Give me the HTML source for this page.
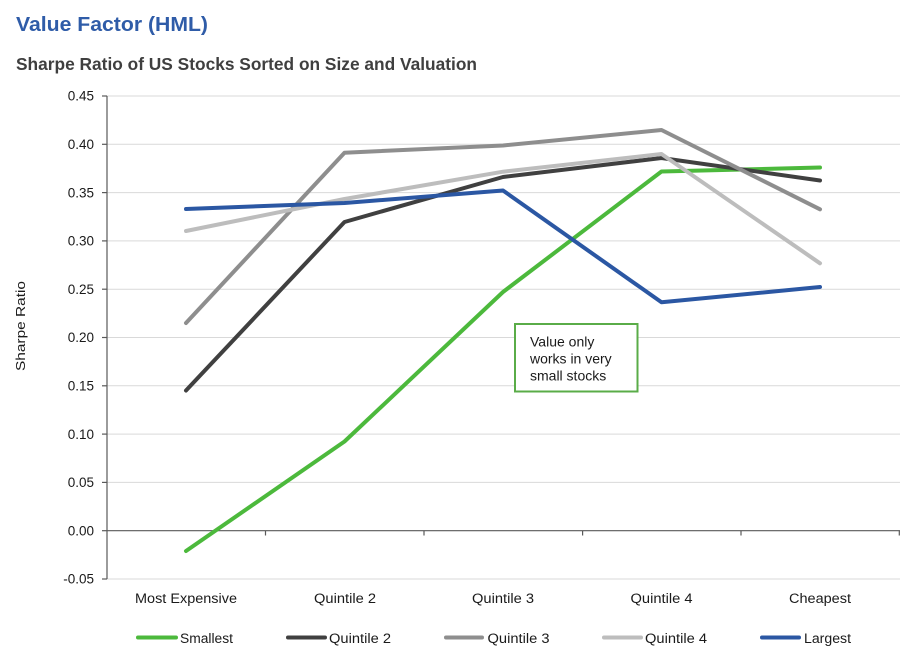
<!DOCTYPE html>
<html><head><meta charset="utf-8"><style>
html,body{margin:0;padding:0;background:#fff;}
svg{display:block;}
text{font-family:"Liberation Sans",sans-serif;}
</style></head><body>
<svg width="924" height="660" viewBox="0 0 924 660" xmlns="http://www.w3.org/2000/svg">
<rect width="924" height="660" fill="#fff"/>
<text x="16" y="31" font-size="20" font-weight="bold" fill="#2f5ca8" textLength="192" lengthAdjust="spacingAndGlyphs">Value Factor (HML)</text>
<text x="16" y="70" font-size="17.5" font-weight="bold" fill="#3f3f3f" textLength="461" lengthAdjust="spacingAndGlyphs">Sharpe Ratio of US Stocks Sorted on Size and Valuation</text>

<g stroke="#d9d9d9" stroke-width="1">
<line x1="107" y1="96" x2="900" y2="96"/>
<line x1="107" y1="144.3" x2="900" y2="144.3"/>
<line x1="107" y1="192.6" x2="900" y2="192.6"/>
<line x1="107" y1="240.9" x2="900" y2="240.9"/>
<line x1="107" y1="289.2" x2="900" y2="289.2"/>
<line x1="107" y1="337.5" x2="900" y2="337.5"/>
<line x1="107" y1="385.8" x2="900" y2="385.8"/>
<line x1="107" y1="434.1" x2="900" y2="434.1"/>
<line x1="107" y1="482.4" x2="900" y2="482.4"/>
<line x1="107" y1="579" x2="900" y2="579"/>
</g>
<g stroke="#595959" stroke-width="1.2">
<line x1="107" y1="96" x2="107" y2="579"/>
<line x1="102" y1="96" x2="107" y2="96"/>
<line x1="102" y1="144.3" x2="107" y2="144.3"/>
<line x1="102" y1="192.6" x2="107" y2="192.6"/>
<line x1="102" y1="240.9" x2="107" y2="240.9"/>
<line x1="102" y1="289.2" x2="107" y2="289.2"/>
<line x1="102" y1="337.5" x2="107" y2="337.5"/>
<line x1="102" y1="385.8" x2="107" y2="385.8"/>
<line x1="102" y1="434.1" x2="107" y2="434.1"/>
<line x1="102" y1="482.4" x2="107" y2="482.4"/>
<line x1="102" y1="530.7" x2="107" y2="530.7"/>
<line x1="102" y1="579" x2="107" y2="579"/>
<line x1="107" y1="530.7" x2="900" y2="530.7"/>
<line x1="265.5" y1="530.7" x2="265.5" y2="535.5"/>
<line x1="424" y1="530.7" x2="424" y2="535.5"/>
<line x1="582.6" y1="530.7" x2="582.6" y2="535.5"/>
<line x1="741" y1="530.7" x2="741" y2="535.5"/>
<line x1="899.3" y1="530.7" x2="899.3" y2="535.5"/>
</g>
<g font-size="13.5" fill="#1a1a1a" text-anchor="end">
<text x="94" y="100.7">0.45</text>
<text x="94" y="149">0.40</text>
<text x="94" y="197.3">0.35</text>
<text x="94" y="245.6">0.30</text>
<text x="94" y="293.9">0.25</text>
<text x="94" y="342.2">0.20</text>
<text x="94" y="390.5">0.15</text>
<text x="94" y="438.8">0.10</text>
<text x="94" y="487.1">0.05</text>
<text x="94" y="535.4">0.00</text>
<text x="94" y="583.7">-0.05</text>
</g>
<text transform="translate(25,326) rotate(-90)" font-size="13" fill="#1a1a1a" text-anchor="middle" textLength="90" lengthAdjust="spacingAndGlyphs">Sharpe Ratio</text>

<g font-size="13.5" fill="#1a1a1a" text-anchor="middle">
<text x="186" y="603" textLength="102" lengthAdjust="spacingAndGlyphs">Most Expensive</text>
<text x="345" y="603" textLength="62" lengthAdjust="spacingAndGlyphs">Quintile 2</text>
<text x="503" y="603" textLength="62" lengthAdjust="spacingAndGlyphs">Quintile 3</text>
<text x="661.5" y="603" textLength="62" lengthAdjust="spacingAndGlyphs">Quintile 4</text>
<text x="820" y="603" textLength="62" lengthAdjust="spacingAndGlyphs">Cheapest</text>
</g>

<g fill="none" stroke-width="4" stroke-linejoin="round" stroke-linecap="round">
<polyline stroke="#4cb93c" points="186,551 344.5,441.5 503,292 661.5,171.5 820,167.5"/>
<polyline stroke="#404040" points="186,390.5 344.5,222 503,177 661.5,158 820,180.5"/>
<polyline stroke="#8e8e8e" points="186,323 344.5,152.7 503,145.5 661.5,130 820,209.3"/>
<polyline stroke="#bdbdbd" points="186,231 344.5,199 503,171.7 661.5,154 820,263.3"/>
<polyline stroke="#2b57a3" points="186,209 344.5,203 503,190.5 661.5,302.3 820,287"/>
</g>

<rect x="515" y="324" width="122.5" height="67.5" fill="#fff" stroke="#5aac48" stroke-width="2"/>
<g font-size="14" fill="#1a1a1a">
<text x="530" y="346.7">Value only</text>
<text x="530" y="363.5">works in very</text>
<text x="530" y="380.5">small stocks</text>
</g>

<g stroke-width="4" stroke-linecap="round">
<line x1="138" y1="637.5" x2="176" y2="637.5" stroke="#4cb93c"/>
<line x1="288" y1="637.5" x2="325" y2="637.5" stroke="#404040"/>
<line x1="446" y1="637.5" x2="482" y2="637.5" stroke="#8e8e8e"/>
<line x1="604" y1="637.5" x2="641" y2="637.5" stroke="#bdbdbd"/>
<line x1="762" y1="637.5" x2="799" y2="637.5" stroke="#2b57a3"/>
</g>
<g font-size="13.5" fill="#1a1a1a">
<text x="180" y="643" textLength="53" lengthAdjust="spacingAndGlyphs">Smallest</text>
<text x="329" y="643" textLength="62" lengthAdjust="spacingAndGlyphs">Quintile 2</text>
<text x="487.5" y="643" textLength="62" lengthAdjust="spacingAndGlyphs">Quintile 3</text>
<text x="645" y="643" textLength="62" lengthAdjust="spacingAndGlyphs">Quintile 4</text>
<text x="804" y="643" textLength="47" lengthAdjust="spacingAndGlyphs">Largest</text>
</g>
</svg>
</body></html>
